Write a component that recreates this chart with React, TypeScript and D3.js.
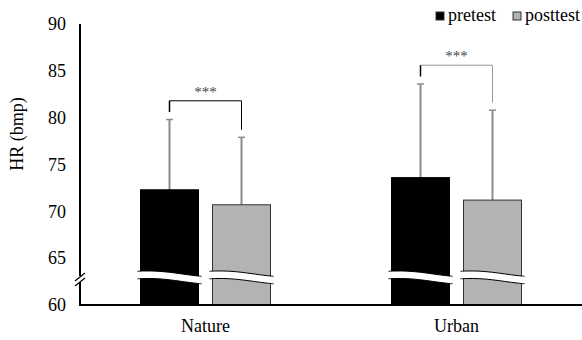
import React from "react";
import * as d3 from "d3";

const categories = ["Nature", "Urban"];
const series = ["pretest", "posttest"];
const means = [
  [72.3, 70.7],
  [73.6, 71.2],
];
const errTops = [
  [79.8, 77.9],
  [83.6, 80.8],
];
const yTicks = [60, 65, 70, 75, 80, 85, 90];
const sigLabels = ["***", "***"];
const colors = ["#000000", "#b3b3b3"];

const W = 582;
const H = 340;
const left = 80;
const right = 582;
const top = 24;
const bottom = 305;
const font = "Liberation Serif";
const ts = { fontFamily: font };

export default function App() {
  const x = d3.scaleBand<string>().domain(categories).range([left, right]).paddingInner(0).paddingOuter(0);
  const y = d3.scaleLinear().domain([60, 90]).range([bottom, top]);
  const barW = 58;
  const gap = 14;
  const barX = (ci: number, si: number) => {
    const c = x(categories[ci])! + x.bandwidth() / 2;
    return si === 0 ? c - gap / 2 - barW : c + gap / 2;
  };
  const breakY = y(63.6);
  const waveLine = d3.line<[number, number]>().curve(d3.curveBasis);
  const wave = (x0: number, x1: number, y0: number) => {
    const pts: [number, number][] = [];
    for (let i = 0; i <= 10; i++) {
      const t = i / 10;
      const s = 3 * t * t - 2 * t * t * t;
      pts.push([x0 + (x1 - x0) * t, y0 + 5 * s - 1.5 * Math.sin(Math.PI * t)]);
    }
    return pts;
  };
  return (
    <svg width={W} height={H} style={{ display: "block", position: "absolute", left: 0, top: 0 }}>
      <rect width={W} height={H} fill="#fff" />
      {/* y tick labels */}
      {yTicks.map((t) => (
        <text key={t} x={66} y={y(t)} dy="0.35em" textAnchor="end" fontSize={18} fill="#000" style={ts}>
          {t}
        </text>
      ))}
      <text transform={`translate(23,${134}) rotate(-90)`} textAnchor="middle" fontSize={18} fill="#000" style={ts}>
        HR (bmp)
      </text>
      {/* bars */}
      {categories.map((c, ci) =>
        series.map((s, si) => {
          const bx = barX(ci, si);
          const cx = bx + barW / 2;
          return (
            <g key={c + s}>
              <line x1={cx} x2={cx} y1={y(means[ci][si])} y2={y(errTops[ci][si])} stroke="#8c8c8c" strokeWidth={2} />
              <line x1={cx - 3.5} x2={cx + 3.5} y1={y(errTops[ci][si])} y2={y(errTops[ci][si])} stroke="#8c8c8c" strokeWidth={1.5} />
              <rect
                x={bx}
                y={y(means[ci][si])}
                width={barW}
                height={bottom - y(means[ci][si])}
                fill={colors[si]}
                stroke={si === 0 ? "#000" : "#333"}
                strokeWidth={1}
              />
            </g>
          );
        })
      )}
      {/* bar breaks */}
      {categories.map((c, ci) =>
        series.map((s, si) => {
          const bx = barX(ci, si);
          const x0 = bx - 3;
          const x1 = bx + barW + 3;
          const topPts = wave(x0, x1, breakY);
          const botPts = wave(x0, x1, breakY + 7.5);
          const band = waveLine(topPts)! + "L" + waveLine(botPts.slice().reverse())!.slice(1) + "Z";
          return (
            <g key={"b" + c + s}>
              <path d={band} fill="#fff" stroke="none" />
              <path d={waveLine(topPts)!} fill="none" stroke="#000" strokeWidth={1} />
              <path d={waveLine(botPts)!} fill="none" stroke="#000" strokeWidth={1} />
            </g>
          );
        })
      )}
      {/* axes */}
      <line x1={left} x2={left} y1={top} y2={bottom} stroke="#000" strokeWidth={2} />
      <line x1={left - 1} x2={right} y1={bottom} y2={bottom} stroke="#000" strokeWidth={2} />
      {/* axis break */}
      <rect x={left - 4} y={276} width={8} height={6} fill="#fff" />
      <line x1={left - 5} x2={left + 5} y1={281} y2={273} stroke="#000" strokeWidth={1.3} />
      <line x1={left - 5} x2={left + 5} y1={286} y2={278} stroke="#000" strokeWidth={1.3} />
      {/* category labels */}
      {categories.map((c) => (
        <text key={c} x={x(c)! + x.bandwidth() / 2} y={332} textAnchor="middle" fontSize={18} fill="#000" style={ts}>
          {c}
        </text>
      ))}
      {/* significance brackets */}
      {categories.map((c, ci) => {
        const lx = barX(ci, 0) + barW / 2;
        const rx = barX(ci, 1) + barW / 2;
        const hy = y(Math.max(errTops[ci][0], errTops[ci][1]) + 2);
        const ly = y(errTops[ci][0] + 0.8);
        const ry = y(errTops[ci][1] + 0.8);
        return (
          <g key={"s" + c}>
            <path d={`M${lx},${ly}V${hy}H${rx}V${ry}`} fill="none" stroke={ci === 0 ? "#000" : "#999"} strokeWidth={1} />
            <line x1={lx} x2={lx} y1={ly} y2={hy} stroke="#000" strokeWidth={1.5} />
            <text x={(lx + rx) / 2} y={hy - 4} textAnchor="middle" fontSize={15} fill="#444" style={ts}>
              {sigLabels[ci]}
            </text>
          </g>
        );
      })}
      {/* legend */}
      {series.map((s, si) => {
        const lx = si === 0 ? 436 : 513;
        return (
          <g key={"l" + s}>
            <rect x={lx} y={12} width={8} height={8} fill={colors[si]} stroke="#333" strokeWidth={1} />
            <text x={lx + 12} y={21} fontSize={18} fill="#000" style={ts}>
              {s}
            </text>
          </g>
        );
      })}
    </svg>
  );
}
